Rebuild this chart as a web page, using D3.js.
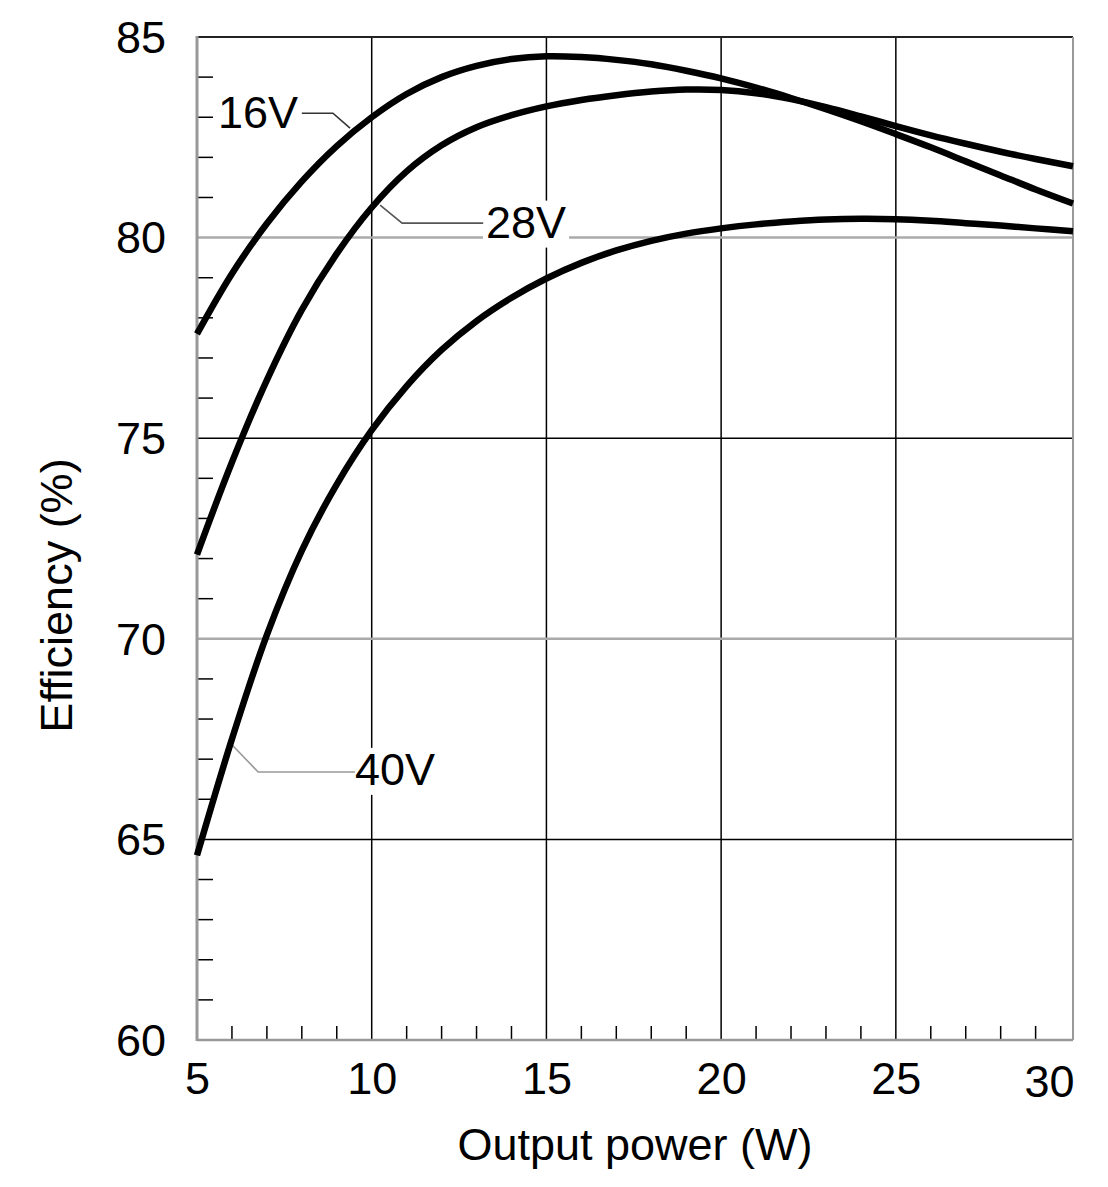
<!DOCTYPE html>
<html>
<head>
<meta charset="utf-8">
<script src="https://cdn.jsdelivr.net/npm/d3@7"></script>
<style>
	body { margin: 0; background: #fff; }
	text { font-family: "Liberation Sans", Arial, sans-serif; fill: #000; }
</style>
</head>
<body>
<div id="chart"></div>
<script>
// ---------- DATA ----------
const power = [5, 6, 7, 8, 9, 10, 11, 12, 13, 14, 15, 16, 17, 18, 19, 20, 21, 22, 23, 24, 25, 26, 27, 28, 29, 30.07];
const eff16V = [77.6, 79.1, 80.35, 81.4, 82.28, 83.0, 83.58, 84.0, 84.28, 84.45, 84.52, 84.5, 84.43, 84.32, 84.16, 83.97, 83.74, 83.48, 83.2, 82.9, 82.58, 82.25, 81.9, 81.55, 81.2, 80.85];
const eff28V = [72.1, 74.4, 76.45, 78.2, 79.6, 80.75, 81.65, 82.3, 82.75, 83.05, 83.27, 83.43, 83.55, 83.64, 83.69, 83.68, 83.6, 83.45, 83.25, 83.02, 82.78, 82.55, 82.34, 82.14, 81.96, 81.78];
const eff40V = [64.6, 67.5, 70.1, 72.2, 73.85, 75.2, 76.3, 77.2, 77.92, 78.5, 78.98, 79.37, 79.68, 79.92, 80.1, 80.23, 80.33, 80.4, 80.45, 80.47, 80.46, 80.42, 80.36, 80.3, 80.23, 80.16];

const seriesNames = ["16V", "28V", "40V"];
const seriesValues = [eff16V, eff28V, eff40V];

const xTicks = [5, 10, 15, 20, 25, 30];
const yTicks = [60, 65, 70, 75, 80, 85];

// label anchors and leader lines, in data units (power, efficiency)
const labelPos = [[5.6, 82.73], [13.27, 80.0], [9.52, 66.36]];
const leaders = [
	[[8.0, 83.1], [8.89, 83.1], [9.38, 82.73]],
	[[13.19, 80.36], [10.87, 80.36], [10.24, 80.81]],
	[[9.52, 66.68], [6.75, 66.68], [6.0, 67.36]],
];
const leaderColors = ["#333", "#555", "#999"];

// ---------- CHART ----------
const width = 1108;
const height = 1187;
const margin = { top: 37, right: 35, bottom: 147, left: 197 };

const svg = d3
	.select("#chart")
	.append("svg")
	.attr("width", width)
	.attr("height", height);

const x = d3
	.scaleLinear()
	.domain([5, 30.07])
	.range([margin.left, width - margin.right]);

const y = d3
	.scaleLinear()
	.domain([60, 85])
	.range([height - margin.bottom, margin.top]);

const gridG = svg.append("g");

// vertical grid
gridG
	.selectAll(".vgrid")
	.data([10, 15, 20, 25])
	.enter()
	.append("line")
	.attr("x1", (d) => x(d))
	.attr("x2", (d) => x(d))
	.attr("y1", y(85))
	.attr("y2", y(60))
	.attr("stroke", "#000")
	.attr("stroke-width", 1.5);

// horizontal grid: 80 and 70 grey, 75 and 65 black
gridG
	.selectAll(".hgrid")
	.data([65, 70, 75, 80])
	.enter()
	.append("line")
	.attr("x1", x(5))
	.attr("x2", x(30.07))
	.attr("y1", (d) => y(d))
	.attr("y2", (d) => y(d))
	.attr("stroke", (d) => (d % 10 === 0 ? "#aaa" : "#000"))
	.attr("stroke-width", (d) => (d % 10 === 0 ? 2.5 : 1.5));

// minor ticks
const yMinor = d3.range(61, 85).filter((d) => d % 5 !== 0);
gridG
	.selectAll(".ytick")
	.data(yMinor)
	.enter()
	.append("line")
	.attr("x1", x(5))
	.attr("x2", x(5) + 16)
	.attr("y1", (d) => y(d))
	.attr("y2", (d) => y(d))
	.attr("stroke", "#000")
	.attr("stroke-width", 1.5);

const xMinor = d3.range(6, 30).filter((d) => d % 5 !== 0);
gridG
	.selectAll(".xtick")
	.data(xMinor)
	.enter()
	.append("line")
	.attr("x1", (d) => x(d))
	.attr("x2", (d) => x(d))
	.attr("y1", y(60))
	.attr("y2", y(60) - 14)
	.attr("stroke", "#000")
	.attr("stroke-width", 1.5);

// frame
gridG
	.append("line")
	.attr("x1", x(5))
	.attr("x2", x(30.07))
	.attr("y1", y(85))
	.attr("y2", y(85))
	.attr("stroke", "#222")
	.attr("stroke-width", 2);
gridG
	.append("line")
	.attr("x1", x(30.07))
	.attr("x2", x(30.07))
	.attr("y1", y(85))
	.attr("y2", y(60))
	.attr("stroke", "#999")
	.attr("stroke-width", 2);
gridG
	.append("line")
	.attr("x1", x(5))
	.attr("x2", x(30.07))
	.attr("y1", y(60))
	.attr("y2", y(60))
	.attr("stroke", "#999")
	.attr("stroke-width", 2.5);
gridG
	.append("line")
	.attr("x1", x(5))
	.attr("x2", x(5))
	.attr("y1", y(85) - 1)
	.attr("y2", y(60) + 1)
	.attr("stroke", "#999")
	.attr("stroke-width", 3);

// axes (labels only)
const yAxis = svg
	.append("g")
	.attr("transform", `translate(${x(5)}, 0)`)
	.call(d3.axisLeft(y).tickValues(yTicks).tickSize(0).tickPadding(31));
yAxis.select(".domain").remove();
yAxis.selectAll("text").attr("font-size", 45).attr("font-family", null).attr("dy", "0.34em");

const xAxis = svg
	.append("g")
	.attr("transform", `translate(0, ${y(60)})`)
	.call(d3.axisBottom(x).tickValues(xTicks).tickSize(0).tickPadding(22));
xAxis.select(".domain").remove();
xAxis.selectAll("text").attr("font-size", 45).attr("font-family", null);
xAxis
	.selectAll(".tick")
	.filter((d) => d === 30)
	.select("text")
	.attr("text-anchor", "end")
	.attr("x", x(30.07) - x(30) + 1)
	.attr("y", 25);

// axis titles
svg
	.append("text")
	.attr("x", (x(5) + x(30.07)) / 2 + 0)
	.attr("y", 1160)
	.attr("text-anchor", "middle")
	.attr("font-size", 45)
	.text("Output power (W)");

svg
	.append("text")
	.attr("transform", `translate(72, ${(y(60) + y(85)) / 2 + 57}) rotate(-90)`)
	.attr("text-anchor", "middle")
	.attr("font-size", 45)
	.text("Efficiency (%)");

// series labels with white backgrounds
const labelG = svg.append("g");
seriesNames.forEach((name, i) => {
	const t = labelG
		.append("text")
		.attr("x", x(labelPos[i][0]))
		.attr("y", y(labelPos[i][1]))
		.attr("font-size", 45)
		.text(name);
	const bb = t.node().getBBox();
	labelG
		.insert("rect", "text")
		.attr("x", bb.x - 3)
		.attr("y", bb.y + 4)
		.attr("width", bb.width + 6)
		.attr("height", bb.height - 4)
		.attr("fill", "#fff");
	labelG
		.append("path")
		.attr("d", d3.line()(leaders[i].map((p) => [x(p[0]), y(p[1])])))
		.attr("fill", "none")
		.attr("stroke", leaderColors[i])
		.attr("stroke-width", 1.6);
});

// curves
const line = d3
	.line()
	.x((d) => x(d[0]))
	.y((d) => y(d[1]))
	.curve(d3.curveCatmullRom);

svg
	.append("g")
	.selectAll("path")
	.data(seriesValues)
	.enter()
	.append("path")
	.attr("d", (vals) => line(power.map((p, j) => [p, vals[j]])))
	.attr("fill", "none")
	.attr("stroke", "#000")
	.attr("stroke-width", 6.5)
	.attr("stroke-linecap", "butt");
</script>
</body>
</html>
